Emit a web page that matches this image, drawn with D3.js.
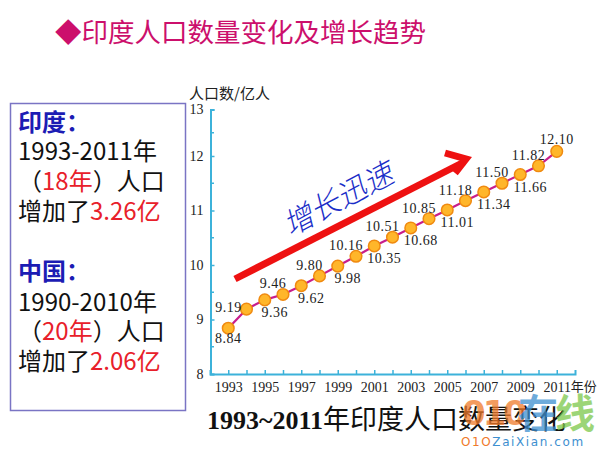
<!DOCTYPE html>
<html>
<head>
<meta charset="utf-8">
<script src="https://cdn.jsdelivr.net/npm/d3@7/dist/d3.min.js"></script>
<style>
  html, body { margin: 0; padding: 0; background: #fff; }
  svg { display: block; }
</style>
</head>
<body>
<svg id="chart" width="600" height="450"></svg>
<script>
// ---- data ----
const years = [1993,1994,1995,1996,1997,1998,1999,2000,2001,2002,2003,2004,2005,2006,2007,2008,2009,2010,2011];
const population = [8.84,9.19,9.36,9.46,9.62,9.80,9.98,10.16,10.35,10.51,10.68,10.85,11.01,11.18,11.34,11.50,11.66,11.82,12.10];
const yTicks = [8,9,10,11,12,13];
const titleText = "◆印度人口数量变化及增长趋势";
const yAxisTitle = "人口数/亿人";
const xAxisUnit = "年份";
const captionNum = "1993~2011";
const captionText = "年印度人口数量变化";
const trendText = "增长迅速";
const noteLines = [
  [{t:"印度：", c:"blue"}],
  [{t:"1993-2011年", c:"black"}],
  [{t:"（", c:"black"},{t:"18年", c:"red"},{t:"）人口", c:"black"}],
  [{t:"增加了", c:"black"},{t:"3.26亿", c:"red"}],
  [{t:"中国：", c:"blue"}],
  [{t:"1990-2010年", c:"black"}],
  [{t:"（", c:"black"},{t:"20年", c:"red"},{t:"）人口", c:"black"}],
  [{t:"增加了", c:"black"},{t:"2.06亿", c:"red"}]
];

// ---- setup ----
const svg = d3.select("#chart");
const CJK = "'Noto Sans CJK SC', 'Noto Sans', sans-serif";
const SERIF = "'Liberation Serif', 'DejaVu Serif', serif";
const colorMap = {blue: "#1c1cb4", black: "#111", red: "#e8202a"};

// title
svg.append("text")
  .attr("x", 55).attr("y", 42)
  .attr("font-family", CJK).attr("font-size", 26.5)
  .attr("fill", "#cc0f6c")
  .text(titleText);

// left note box
svg.append("rect")
  .attr("x", 10.5).attr("y", 103.5).attr("width", 175).attr("height", 307)
  .attr("fill", "#fff").attr("stroke", "#7a74c4").attr("stroke-width", 1.5);

const baselines = [131, 160, 190, 220, 280, 311, 340, 370];
noteLines.forEach((line, i) => {
  const t = svg.append("text")
    .attr("x", 18).attr("y", baselines[i])
    .attr("font-family", CJK).attr("font-size", 24);
  line.forEach(seg => {
    t.append("tspan").attr("fill", colorMap[seg.c])
      .attr("font-weight", seg.c === "blue" ? 700 : 400)
      .text(seg.t);
  });
});

// scales
const x = d3.scaleLinear().domain([1992, 2012]).range([210, 575]);
const y = d3.scaleLinear().domain([8, 12, 13]).range([374, 156, 109.5]);

const axisColor = "#3cb2da";

// y axis
const yAxis = d3.axisLeft(y).tickValues(yTicks).tickSize(-4).tickPadding(7).tickFormat(d3.format("d"));
const gy = svg.append("g").attr("transform", "translate(210.5,0)").call(yAxis);
gy.select(".domain").attr("stroke", axisColor).attr("stroke-width", 2);
gy.selectAll(".tick line").attr("stroke", axisColor).attr("stroke-width", 1.5);
gy.selectAll(".tick text").attr("font-family", SERIF).attr("font-size", 14).attr("fill", "#222");
// minor y ticks
const minorY = d3.range(8.5, 13, 1);
svg.append("g").selectAll("line").data(minorY).join("line")
  .attr("x1", 210.5).attr("x2", 214).attr("y1", d => y(d)).attr("y2", d => y(d))
  .attr("stroke", axisColor).attr("stroke-width", 1.5);

// x axis
const xAxis = d3.axisBottom(x).tickValues(d3.range(1993, 2012)).tickSize(-4).tickPadding(8)
  .tickFormat(d => d % 2 === 1 ? String(d) : "");
const gx = svg.append("g").attr("transform", "translate(0,374)").call(xAxis);
gx.select(".domain").attr("stroke", axisColor).attr("stroke-width", 2);
gx.selectAll(".tick line").attr("stroke", axisColor).attr("stroke-width", 1.5);
gx.selectAll(".tick text").attr("font-family", SERIF).attr("font-size", 14).attr("fill", "#222");
svg.append("text")
  .attr("x", x(2011) + 14).attr("y", 391)
  .attr("font-family", CJK).attr("font-size", 13).attr("fill", "#222")
  .text(xAxisUnit);

// y axis title
svg.append("text")
  .attr("x", 189).attr("y", 99)
  .attr("font-family", CJK).attr("font-size", 15).attr("fill", "#222")
  .text(yAxisTitle);

// trend arrow
svg.append("line")
  .attr("x1", 235).attr("y1", 279).attr("x2", 464).attr("y2", 162)
  .attr("stroke", "#ee1111").attr("stroke-width", 7);
svg.append("polyline")
  .attr("points", "445,153 466,159 455,173")
  .attr("fill", "none").attr("stroke", "#ee1111").attr("stroke-width", 7)
  .attr("stroke-linejoin", "miter").attr("stroke-linecap", "butt");

svg.append("text")
  .attr("transform", "translate(337,197) rotate(-28)")
  .attr("text-anchor", "middle").attr("dominant-baseline", "central")
  .attr("font-family", CJK).attr("font-size", 30).attr("font-weight", 300)
  .attr("font-style", "italic")
  .attr("fill", "#1a2ec8")
  .text(trendText);

// data line
const data = years.map((yr, i) => ({year: yr, value: population[i], i}));
const line = d3.line().x(d => x(d.year)).y(d => y(d.value));
svg.append("path").datum(data)
  .attr("d", line).attr("fill", "none")
  .attr("stroke", "#c81e8c").attr("stroke-width", 2.2);

svg.append("g").selectAll("circle").data(data).join("circle")
  .attr("cx", d => x(d.year)).attr("cy", d => y(d.value)).attr("r", 5.8)
  .attr("fill", "#ffb62a").attr("stroke", "#f08a10").attr("stroke-width", 1.5);

// data labels
function labelOffset(d) {
  const n = data.length;
  if (d.i === 0) return [0, 15];
  if (d.i === n - 1) return [0, -7];
  if (d.i === 1) return [-18, 3];
  if (d.i % 2 === 1) return [-10, -6];
  return [10, 17];
}
svg.append("g").selectAll("text").data(data).join("text")
  .attr("x", d => x(d.year) + labelOffset(d)[0])
  .attr("y", d => y(d.value) + labelOffset(d)[1])
  .attr("text-anchor", "middle")
  .attr("font-family", SERIF).attr("font-size", 14)
  .attr("letter-spacing", 0.5)
  .attr("fill", "#222")
  .text(d => d.value.toFixed(2));

// caption
const cap = svg.append("text")
  .attr("x", 207).attr("y", 429)
  .attr("font-size", 27).attr("fill", "#111");
cap.append("tspan").attr("font-family", SERIF).attr("font-weight", 700).attr("font-size", 26).text(captionNum);
cap.append("tspan").attr("font-family", CJK).attr("font-weight", 400).text(captionText);

// watermark
const wm = svg.append("g").attr("opacity", 0.75);
wm.append("text").attr("x", 462).attr("y", 425)
  .attr("font-family", "'DejaVu Sans', sans-serif").attr("font-size", 34).attr("font-weight", 700)
  .attr("fill", "#f07a2a").attr("letter-spacing", -3).text("010");
wm.append("text").attr("x", 518).attr("y", 428)
  .attr("font-family", CJK).attr("font-size", 40).attr("font-weight", 700)
  .attr("fill", "#3d8fd0").text("在");
wm.append("text").attr("x", 555).attr("y", 428)
  .attr("font-family", CJK).attr("font-size", 40).attr("font-weight", 700)
  .attr("fill", "#7cc84a").text("线");
const wm2 = svg.append("text").attr("x", 461).attr("y", 446)
  .attr("font-family", "'DejaVu Sans', sans-serif").attr("font-size", 12)
  .attr("letter-spacing", 1.6);
wm2.append("tspan").attr("fill", "#f07a2a").text("O1O");
wm2.append("tspan").attr("fill", "#3d8fd0").text("ZaiXian.com");
</script>
</body>
</html>
